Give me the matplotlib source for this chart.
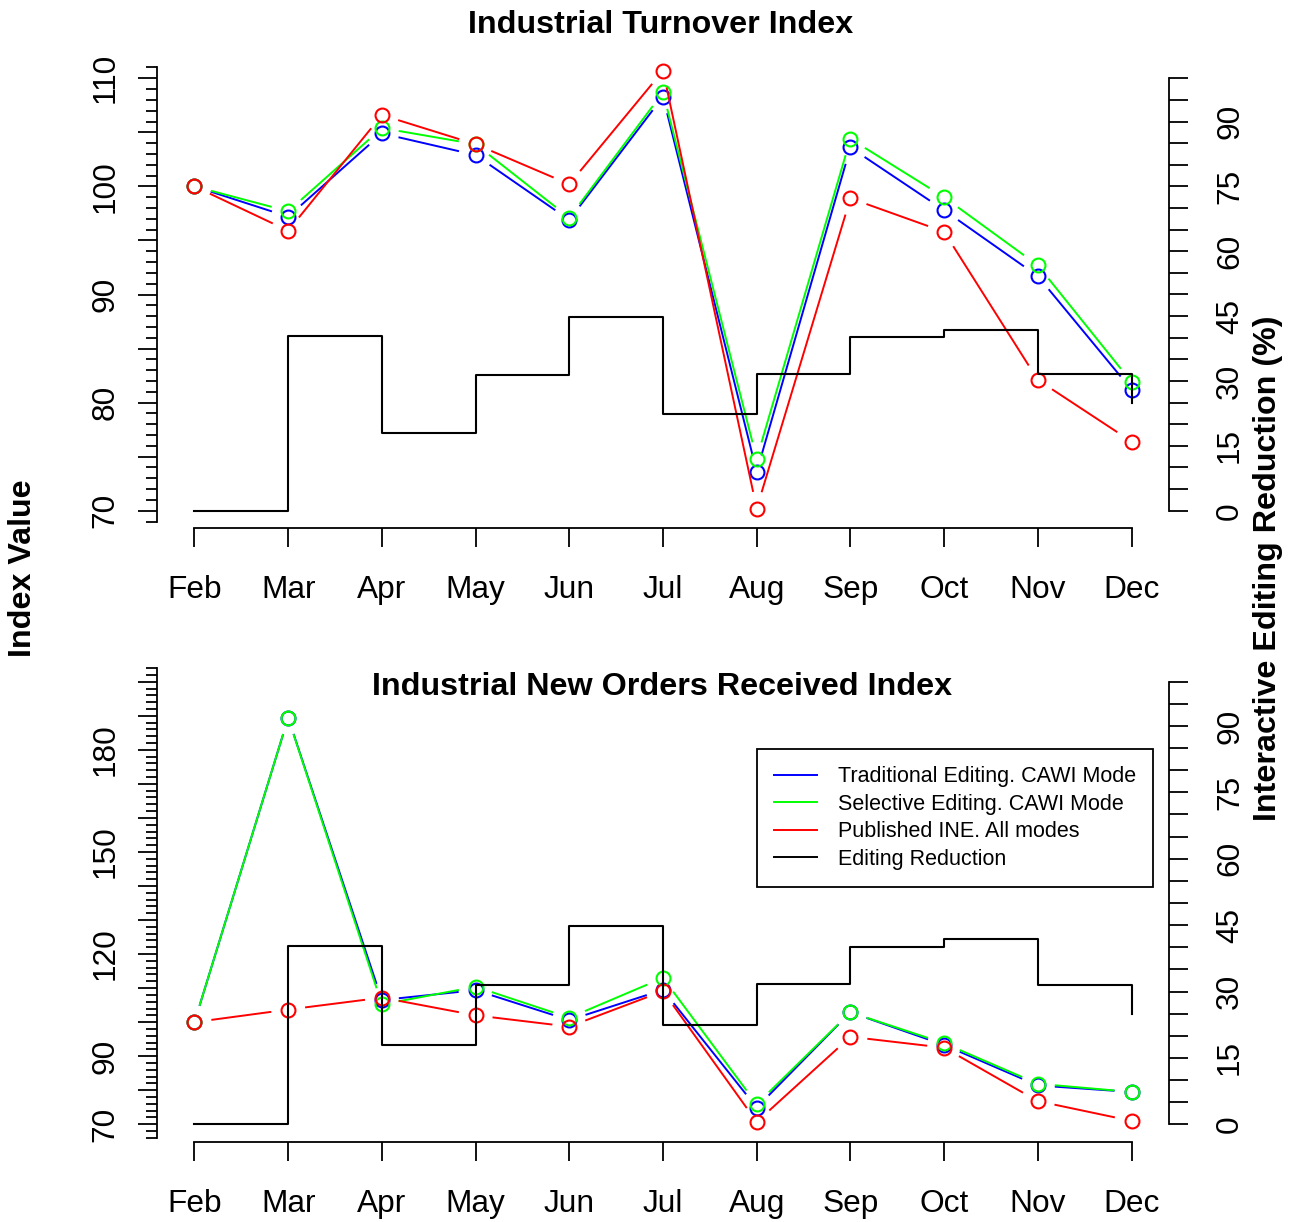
import matplotlib
matplotlib.use('Agg')
import matplotlib.pyplot as plt
import numpy as np
from matplotlib.lines import Line2D
from matplotlib.ticker import FixedLocator

plt.rcParams['font.family'] = ['Liberation Sans', 'DejaVu Sans']

# data
months = ['Feb', 'Mar', 'Apr', 'May', 'Jun', 'Jul', 'Aug', 'Sep', 'Oct', 'Nov', 'Dec']

turnover_trad = [100.0, 97.2, 104.9, 102.9, 96.9, 108.3, 73.6, 103.6, 97.8, 91.7, 81.2]
turnover_sel = [100.0, 97.7, 105.4, 103.9, 97.1, 108.7, 74.8, 104.4, 99.0, 92.7, 81.9]
turnover_pub = [100.0, 95.9, 106.6, 103.9, 100.2, 110.7, 70.2, 98.9, 95.8, 82.1, 76.4]

orders_trad = [100.0, 189.4, 106.5, 109.4, 100.6, 109.5, 74.9, 102.9, 93.3, 81.4, 79.5]
orders_sel = [100.0, 189.4, 105.2, 110.4, 101.3, 113.0, 75.9, 102.9, 93.8, 81.9, 79.5]
orders_pub = [100.0, 103.7, 107.2, 102.0, 98.7, 109.1, 70.7, 95.7, 92.5, 76.8, 71.0]

reduction = [0, 40.3, 18.0, 31.4, 44.8, 22.4, 31.6, 40.1, 41.8, 31.5, 25.0]

legend_labels = ['Traditional Editing. CAWI Mode', 'Selective Editing. CAWI Mode',
                 'Published INE. All modes', 'Editing Reduction']
colors = ['#0000ff', '#00ff00', '#ff0000', 'black']

W, H = 1294, 1222
fig = plt.figure(figsize=(W / 100, H / 100), dpi=100)


def px_rect(x0, y0, x1, y1):
    return [x0 / W, 1 - y1 / H, (x1 - x0) / W, (y1 - y0) / H]


def gapped_line(ax, x, y, color, gap=18):
    # R type="b": segments stop short of the points
    pts = ax.transData.transform(np.column_stack([x, y]))
    inv = ax.transData.inverted()
    for p0, p1 in zip(pts[:-1], pts[1:]):
        d = p1 - p0
        length = np.hypot(d[0], d[1])
        if length <= 2 * gap:
            continue
        u = d / length
        a = inv.transform(p0 + u * gap)
        b = inv.transform(p1 - u * gap)
        ax.plot([a[0], b[0]], [a[1], b[1]], color=color, lw=1.4)


def panel(rect, series, ylim, major, labeled, minor):
    x = np.arange(1, len(months) + 1)
    ax = fig.add_axes(rect)
    ax.set_xlim(0.6, 11.4)
    pad = (ylim[1] - ylim[0]) * 0.04
    ax.set_ylim(ylim[0] - pad, ylim[1] + pad)

    for vals, col in zip(series, colors[:3]):
        gapped_line(ax, x, vals, col)
        ax.plot(x, vals, 'o', ls='none', mfc='none', mec=col, ms=10, mew=1.5)

    for s in ['top', 'right']:
        ax.spines[s].set_visible(False)
    ax.spines['left'].set_bounds(minor[0], minor[-1])
    ax.spines['bottom'].set_bounds(1, 11)
    for s in ['left', 'bottom']:
        ax.spines[s].set_linewidth(1.3)

    ax.set_xticks(x)
    ax.set_xticklabels(months)
    ax.yaxis.set_major_locator(FixedLocator(major))
    ax.set_yticklabels([str(v) if v in labeled else '' for v in major])
    ax.yaxis.set_minor_locator(FixedLocator(minor))
    ax.tick_params(axis='both', which='major', length=13.7, width=1.3, labelsize=22.8)
    ax.tick_params(axis='x', pad=20)
    ax.tick_params(axis='y', which='major', labelrotation=90, pad=12.5)
    ax.tick_params(axis='y', which='minor', length=7.9, width=1.3)
    for lab in ax.get_yticklabels():
        lab.set_va('center')

    ax2 = ax.twinx()
    ax2.set_ylim(-4, 104)
    ax2.plot(x, reduction, drawstyle='steps-post', color='black', lw=1.5)
    for s in ['top', 'left', 'bottom']:
        ax2.spines[s].set_visible(False)
    ax2.spines['right'].set_bounds(0, 100)
    ax2.spines['right'].set_linewidth(1.3)
    ax2.yaxis.set_major_locator(FixedLocator(np.arange(0, 101, 5)))
    ax2.set_yticklabels([str(v) if v % 15 == 0 and v <= 90 else '' for v in range(0, 101, 5)])
    ax2.tick_params(axis='y', length=13.7, width=1.3, labelsize=22.8, labelrotation=90, pad=19.5)
    for lab in ax2.get_yticklabels():
        lab.set_va('center')
    return ax, ax2


top, top2 = panel(px_rect(157, 61, 1169, 528),
                  [turnover_trad, turnover_sel, turnover_pub],
                  (70, 110), list(range(70, 111, 5)), [70, 80, 90, 100, 110],
                  list(range(69, 112)))

bot, bot2 = panel(px_rect(157, 664, 1169, 1142),
                  [orders_trad, orders_sel, orders_pub],
                  (70, 200), list(range(70, 201, 10)), [70, 90, 120, 150, 180],
                  list(range(66, 205, 2)))

fig.text(661 / W, 1 - 25 / H, 'Industrial Turnover Index', ha='center', va='center',
         fontsize=23.2, fontweight='bold')
fig.text(662 / W, 1 - 687 / H, 'Industrial New Orders Received Index', ha='center', va='center',
         fontsize=23.2, fontweight='bold')
fig.text(23 / W, 1 - 568 / H, 'Index Value', ha='center', va='center', rotation=90,
         fontsize=23.2, fontweight='bold')
fig.text(1268 / W, 1 - 568 / H, 'Interactive Editing Reduction (%)', ha='center', va='center',
         rotation=90, fontsize=23.2, fontweight='bold')

handles = [Line2D([], [], color=c, lw=1.4) for c in colors]
leg = bot2.legend(handles, legend_labels, loc='upper left',
                  bbox_to_anchor=(757 / W, 1 - 749 / H), bbox_transform=fig.transFigure,
                  fontsize=15.5, frameon=True, fancybox=False, framealpha=1,
                  edgecolor='black', borderpad=0.8, handlelength=2.0, handletextpad=0.94,
                  labelspacing=0.3, borderaxespad=0)
leg.get_frame().set_linewidth(1.3)

fig.savefig('out.png', dpi=100)
